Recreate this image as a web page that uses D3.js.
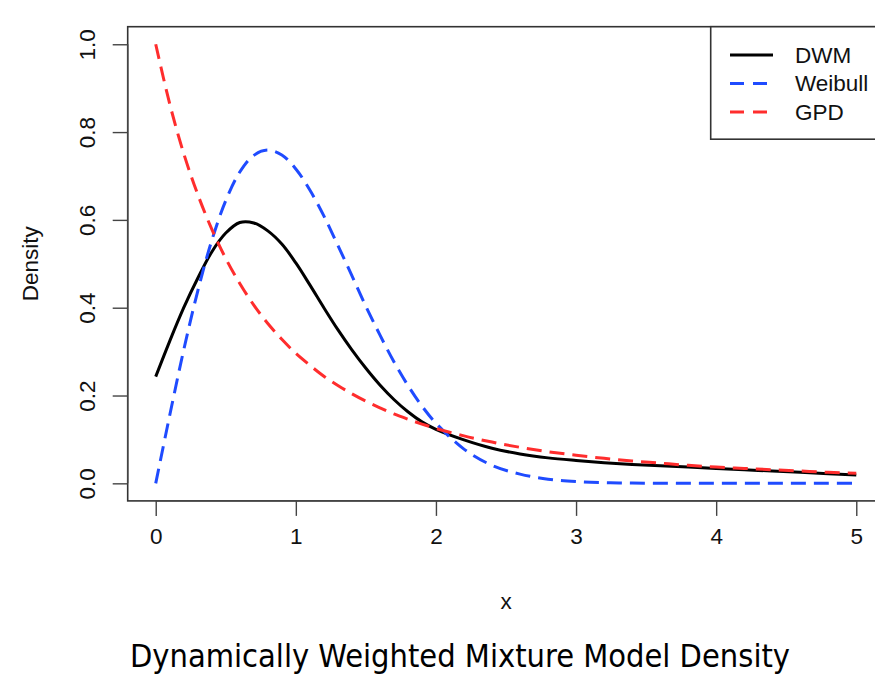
<!DOCTYPE html>
<html>
<head>
<meta charset="utf-8">
<script src="https://cdn.jsdelivr.net/npm/d3@7"></script>
<style>
  html, body { margin: 0; padding: 0; background: #fff; }
  svg { display: block; }
</style>
</head>
<body>
<svg id="chart" width="875" height="676"></svg>
<script>
// ---- data ----
const xGrid = [0, 0.1, 0.2, 0.3, 0.4, 0.5, 0.6, 0.7, 0.8, 0.9, 1.0, 1.1, 1.2, 1.3, 1.4, 1.5, 1.6, 1.7, 1.8, 1.9, 2.0,
               2.2, 2.4, 2.6, 2.8, 3.0, 3.2, 3.4, 3.6, 3.8, 4.0, 4.2, 4.4, 4.6, 4.8, 5.0];
const dwmValues = [0.243, 0.324, 0.400, 0.467, 0.527, 0.570, 0.594, 0.593, 0.575, 0.545, 0.502, 0.452, 0.400, 0.350, 0.304, 0.262, 0.224, 0.191, 0.163, 0.140, 0.123,
                   0.099, 0.080, 0.067, 0.058, 0.052, 0.047, 0.043, 0.040, 0.037, 0.034, 0.031, 0.028, 0.025, 0.022, 0.019];
const weibullValues = [0, 0.155, 0.304, 0.438, 0.553, 0.644, 0.709, 0.747, 0.759, 0.748, 0.716, 0.668, 0.609, 0.542, 0.473, 0.403, 0.338, 0.277, 0.223, 0.176, 0.137,
                       0.078, 0.041, 0.021, 0.0095, 0.004, 0.0016, 0.0006, 0.0002, 0.0001, 0, 0, 0, 0, 0, 0];
const gpdValues = [1.0, 0.864, 0.751, 0.658, 0.579, 0.512, 0.455, 0.406, 0.364, 0.328, 0.296, 0.269, 0.244, 0.223, 0.204, 0.187, 0.172, 0.158, 0.146, 0.135, 0.125,
                   0.108, 0.094, 0.082, 0.072, 0.064, 0.057, 0.051, 0.046, 0.041, 0.037, 0.034, 0.031, 0.028, 0.025, 0.023];
const xTicks = [0, 1, 2, 3, 4, 5];
const yTicks = [0.0, 0.2, 0.4, 0.6, 0.8, 1.0];
const seriesNames = ["DWM", "Weibull", "GPD"];
const seriesColors = ["#000000", "#1f4bff", "#ff2d2d"];
const seriesDash = [null, "15,8", "15,8"];
const titleText = "Dynamically Weighted Mixture Model Density";
const xLabel = "x";
const yLabel = "Density";

// ---- layout ----
const svg = d3.select("#chart");
const x = d3.scaleLinear().domain([-0.2, 5.2]).range([127.7, 884.3]);
const y = d3.scaleLinear().domain([-0.04, 1.04]).range([500.9, 26.7]);
const font = "'Liberation Sans', Arial, sans-serif";

// plot frame
svg.append("rect")
  .attr("x", x(-0.2)).attr("y", y(1.04))
  .attr("width", x(5.2) - x(-0.2)).attr("height", y(-0.04) - y(1.04))
  .attr("fill", "none").attr("stroke", "#333").attr("stroke-width", 1.6);

// axes
const xAxis = d3.axisBottom(x).tickValues(xTicks).tickFormat(d3.format("d")).tickSize(15).tickPadding(12);
const gx = svg.append("g").attr("transform", `translate(0,${y(-0.04)})`).call(xAxis);
gx.select(".domain").attr("d", `M${x(0)},0H${x(5)}`).attr("stroke", "#444").attr("stroke-width", 1.4);
gx.selectAll(".tick line").attr("stroke", "#444").attr("stroke-width", 1.4);
gx.selectAll(".tick text").attr("font-family", font).attr("font-size", 22.5).attr("fill", "#111");

const yAxis = d3.axisLeft(y).tickValues(yTicks).tickFormat(d3.format(".1f")).tickSize(15).tickPadding(0);
const gy = svg.append("g").attr("transform", `translate(${x(-0.2)},0)`).call(yAxis);
gy.select(".domain").attr("d", `M0,${y(0)}V${y(1)}`).attr("stroke", "#444").attr("stroke-width", 1.4);
gy.selectAll(".tick line").attr("stroke", "#444").attr("stroke-width", 1.4);
gy.selectAll(".tick text")
  .attr("font-family", font).attr("font-size", 22.5).attr("fill", "#111")
  .attr("x", null).attr("dy", null)
  .attr("text-anchor", "middle")
  .attr("transform", "translate(-33,0) rotate(-90)");

// lines
const seriesData = [dwmValues, weibullValues, gpdValues];
const line = d3.line().x(d => x(d[0])).y(d => y(d[1])).curve(d3.curveCatmullRom.alpha(0.5));
seriesData.forEach((vals, i) => {
  svg.append("path")
    .datum(xGrid.map((xv, j) => [xv, vals[j]]))
    .attr("d", line)
    .attr("fill", "none")
    .attr("stroke", seriesColors[i])
    .attr("stroke-width", 3)
    .attr("stroke-dasharray", seriesDash[i]);
});

// legend
const lg = svg.append("g");
lg.append("rect").attr("x", 710.7).attr("y", 26.7).attr("width", 200).attr("height", 112.5)
  .attr("fill", "#fff").attr("stroke", "#333").attr("stroke-width", 1.6);
seriesNames.forEach((name, i) => {
  const ly = 55 + i * 28.5;
  lg.append("line").attr("x1", 730).attr("x2", 773).attr("y1", ly).attr("y2", ly)
    .attr("stroke", seriesColors[i]).attr("stroke-width", 3)
    .attr("stroke-dasharray", seriesDash[i] ? "14,9" : null);
  lg.append("text").attr("x", 795).attr("y", ly).attr("dy", "0.35em")
    .attr("font-family", font).attr("font-size", 22.5).attr("fill", "#111").text(name);
});

// axis labels
svg.append("text").attr("x", (x(0) + x(5)) / 2).attr("y", 609)
  .attr("text-anchor", "middle").attr("font-family", font).attr("font-size", 22.5).attr("fill", "#111").text(xLabel);
svg.append("text").attr("transform", `translate(38,${(y(0) + y(1)) / 2}) rotate(-90)`)
  .attr("text-anchor", "middle").attr("font-family", font).attr("font-size", 22.5).attr("fill", "#111").text(yLabel);

// title
svg.append("text").attr("x", 460).attr("y", 667)
  .attr("text-anchor", "middle").attr("font-family", "'Liberation Sans Narrow', 'DejaVu Sans Condensed', sans-serif")
  .attr("font-size", 32).attr("fill", "#000")
  .attr("textLength", 660).attr("lengthAdjust", "spacingAndGlyphs")
  .text(titleText);
</script>
</body>
</html>
